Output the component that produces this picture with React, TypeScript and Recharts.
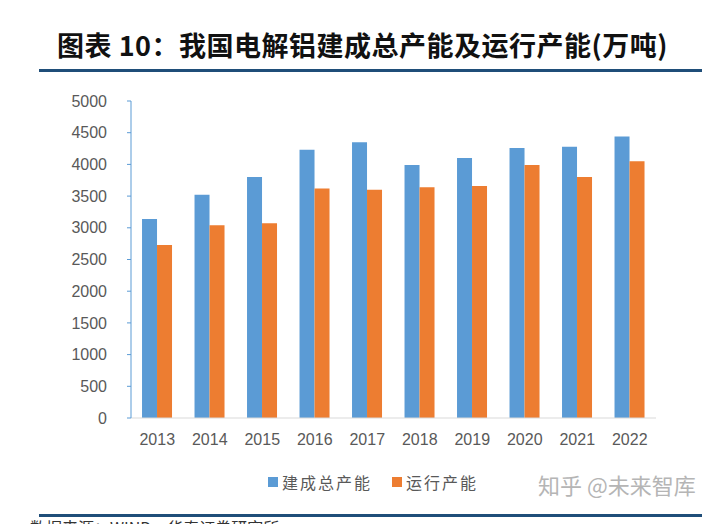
import React from "react";
import { Bar, BarChart, XAxis, YAxis } from "recharts";

const YEARS = ["2013", "2014", "2015", "2016", "2017", "2018", "2019", "2020", "2021", "2022"];
const BUILT = [3140, 3520, 3800, 4230, 4350, 3990, 4100, 4260, 4280, 4440];
const RUNNING = [2730, 3040, 3070, 3620, 3600, 3640, 3660, 3990, 3800, 4050];
const Y_TICKS = [0, 500, 1000, 1500, 2000, 2500, 3000, 3500, 4000, 4500, 5000];
const SERIES_NAMES = ["建成总产能", "运行产能"];

const BLUE = "#5B9BD5";
const ORANGE = "#ED7D31";
const TICK = { fill: "#595959", fontSize: 16, fontFamily: "'Liberation Sans', Arial, sans-serif" };
const CJK = "'Noto Sans CJK SC', sans-serif";

export default function App() {
  const data = YEARS.map((year, i) => ({ year, built: BUILT[i], running: RUNNING[i] }));

  return (
    <div
      style={{
        position: "absolute",
        left: 0,
        top: 0,
        width: 709,
        height: 524,
        overflow: "hidden",
        background: "#fff",
      }}
    >
      <div
        style={{
          position: "absolute",
          top: 26,
          left: 8,
          width: 709,
          textAlign: "center",
          fontFamily: CJK,
          fontWeight: 700,
          fontSize: 27,
          letterSpacing: 0.5,
          color: "#111",
          lineHeight: "38px",
        }}
      >
        图表 10：我国电解铝建成总产能及运行产能(万吨)
      </div>
      <div style={{ position: "absolute", top: 69, left: 39, width: 663, height: 3, background: "#1F4E79" }} />

      <BarChart
        width={709}
        height={524}
        data={data}
        barGap={0}
        barCategoryGap="21%"
        margin={{ top: 101, right: 53, left: 0, bottom: 76 }}
      >
        <XAxis
          dataKey="year"
          tick={TICK}
          tickLine={false}
          axisLine={{ stroke: "#D9D9D9" }}
          height={30}
          tickMargin={10}
        />
        <YAxis
          domain={[0, 5000]}
          ticks={Y_TICKS}
          tick={TICK}
          width={131}
          axisLine={{ stroke: BLUE }}
          tickLine={{ stroke: BLUE }}
          tickSize={4}
          tickMargin={20}
          interval={0}
        />
        <Bar dataKey="built" name={SERIES_NAMES[0]} fill={BLUE} isAnimationActive={false} />
        <Bar dataKey="running" name={SERIES_NAMES[1]} fill={ORANGE} isAnimationActive={false} />
      </BarChart>

      <div
        style={{
          position: "absolute",
          top: 470,
          left: 268,
          display: "flex",
          alignItems: "center",
          fontFamily: CJK,
          fontSize: 16,
          color: "#595959",
          letterSpacing: 2,
        }}
      >
        {SERIES_NAMES.map((name, i) => (
          <span key={name} style={{ display: "flex", alignItems: "center", marginRight: 20 }}>
            <span
              style={{
                display: "inline-block",
                width: 10,
                height: 10,
                background: i === 0 ? BLUE : ORANGE,
                marginRight: 4,
              }}
            />
            {name}
          </span>
        ))}
      </div>

      <div
        style={{
          position: "absolute",
          top: 468,
          left: 538,
          fontFamily: CJK,
          fontSize: 22,
          color: "#b5b5b5",
        }}
      >
        知乎 @未来智库
      </div>

      <div style={{ position: "absolute", top: 514, left: 39, width: 663, height: 3, background: "#1F4E79" }} />
      <div
        style={{
          position: "absolute",
          top: 517,
          left: 30,
          fontFamily: CJK,
          fontSize: 16,
          color: "#333",
          lineHeight: "20px",
        }}
      >
        数据来源：WIND，华泰证券研究所
      </div>
    </div>
  );
}
